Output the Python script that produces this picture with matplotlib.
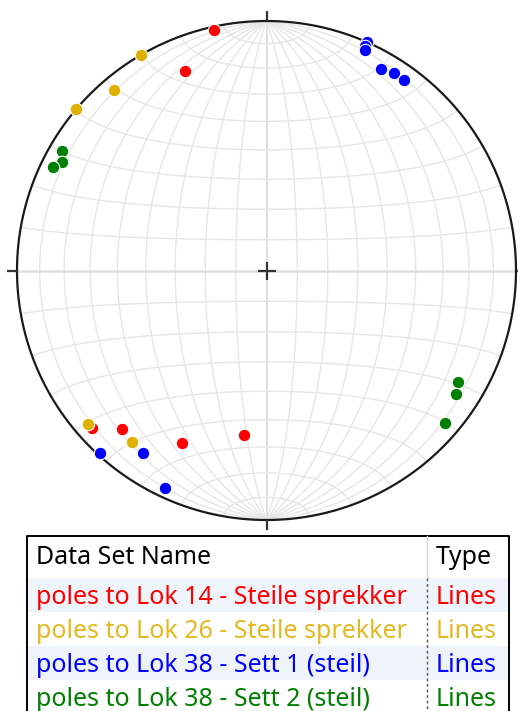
import matplotlib.pyplot as plt
import numpy as np

# Pole orientations (trend, plunge in degrees) for each data set
lok14_trend = [347.7, 337.8, 228.0, 222.2, 206.1, 187.8]
lok14_plunge = [1.7, 14.8, 6.4, 15.1, 24.1, 34.0]

lok26_trend = [329.8, 319.7, 310.3, 229.4, 218.1]
lok26_plunge = [0.0, 5.9, 0.0, 6.3, 13.9]

lok38a_trend = [23.7, 23.7, 24.1, 29.6, 32.8, 35.9, 222.3, 214.1, 205.1]
lok38a_plunge = [0.2, 2.2, 3.6, 8.1, 6.4, 6.4, 1.0, 12.5, 4.3]

lok38b_trend = [300.3, 297.9, 295.8, 120.2, 123.0, 130.4]
lok38b_plunge = [5.8, 8.1, 5.6, 12.3, 10.4, 6.5]

set_names = ["poles to Lok 14 - Steile sprekker",
             "poles to Lok 26 - Steile sprekker",
             "poles to Lok 38 - Sett 1 (steil)",
             "poles to Lok 38 - Sett 2 (steil)"]
set_types = ["Lines", "Lines", "Lines", "Lines"]
dot_colors = ["#ff0000", "#e0b000", "#0000ff", "#008000"]
text_colors = ["#ff0000", "#e6b820", "#0000ff", "#008000"]

plt.rcParams['font.family'] = ['Noto Sans', 'DejaVu Sans']


def project(x, y, z):
    # Schmidt (equal-area) lower hemisphere; x east, y north, z down
    s = np.sqrt(1.0 + z)
    return x / s, y / s


def pole_xy(trend, plunge):
    tr = np.radians(np.asarray(trend))
    pl = np.radians(np.asarray(plunge))
    return project(np.cos(pl) * np.sin(tr), np.cos(pl) * np.cos(tr), np.sin(pl))


W, H = 518, 711
cx, cy, R = 266.5, 270.5, 249.5
fig = plt.figure(figsize=(W / 100, H / 100), dpi=100)

# ---- stereonet ----
top_h = 530
ax = fig.add_axes([0, 1 - top_h / H, 1, top_h / H])
ax.set_xlim(-cx / R, (W - cx) / R)
ax.set_ylim(-(top_h - cy) / R, cy / R)
ax.axis('off')

grid_col = '#e6e6e6'
t = np.radians(np.linspace(-90, 90, 361))
# great circles through N and S
for lam in range(10, 180, 10):
    l = np.radians(lam)
    gx, gy = project(np.cos(t) * np.cos(l), np.sin(t), np.cos(t) * np.sin(l))
    lw, c = (1.4, '#e0e0e0') if lam == 90 else (1.0, grid_col)
    ax.plot(gx, gy, color=c, lw=lw, zorder=1)
# small circles about the N-S axis
s = np.radians(np.linspace(0, 180, 361))
for phi in range(-80, 90, 10):
    p = np.radians(phi)
    gx, gy = project(np.cos(p) * np.cos(s), np.full_like(s, np.sin(p)), np.cos(p) * np.sin(s))
    lw, c = (1.8, '#e0e0e0') if phi == 0 else (1.0, grid_col)
    ax.plot(gx, gy, color=c, lw=lw, zorder=1)

# primitive circle
a = np.linspace(0, 2 * np.pi, 721)
ax.plot(np.cos(a), np.sin(a), color='#1a1a1a', lw=1.6, zorder=3)

# N/E/S/W ticks and centre cross
tk = 10 / R
ax.plot([0, 0], [1, 1 + tk], color='#333333', lw=1.6, zorder=3, solid_capstyle='butt')
ax.plot([0, 0], [-1, -1 - tk], color='#333333', lw=1.6, zorder=3, solid_capstyle='butt')
ax.plot([-1, -1 - tk], [0, 0], color='#333333', lw=1.6, zorder=3, solid_capstyle='butt')
ax.plot([1, 1 + tk], [0, 0], color='#333333', lw=1.6, zorder=3, solid_capstyle='butt',
        clip_on=False)
cr = 9 / R
ax.plot([-cr, cr], [0, 0], color='#333333', lw=1.6, zorder=3, solid_capstyle='butt')
ax.plot([0, 0], [-cr, cr], color='#333333', lw=1.6, zorder=3, solid_capstyle='butt')

# poles
for i, (tr, pl) in enumerate([(lok14_trend, lok14_plunge), (lok26_trend, lok26_plunge),
                              (lok38a_trend, lok38a_plunge), (lok38b_trend, lok38b_plunge)]):
    px, py = pole_xy(tr, pl)
    ax.plot(px, py, 'o', ms=9.0, color=dot_colors[i], mec='white', mew=0.8,
            zorder=4 + i, clip_on=False)

# ---- data set table ----
tb = fig.add_axes([0, 0, 1, 1], zorder=-1)
tb.set_xlim(0, W)
tb.set_ylim(H, 0)
tb.axis('off')

left, right, top = 26.5, 508.5, 535.5
row_top, row_h = 578, 34
for i in range(len(set_names)):
    y0 = row_top + i * row_h
    if i % 2 == 0:
        tb.add_patch(plt.Rectangle((left, y0), right - left, row_h,
                                   facecolor='#eff3fa', edgecolor='none'))
tb.plot([left, left, right, right], [H + 5, top, top, H + 5], color='black', lw=1.4)

sep_x = 427
tb.plot([sep_x, sep_x], [top, row_top], color='#d8d8d8', lw=1.0)
tb.plot([sep_x, sep_x], [row_top, H], color='#555555', lw=1.0, ls=(0, (2, 2)))

fs = 18
tb.text(36, 564, "Data Set Name", color='black', fontsize=fs, va='baseline', ha='left')
tb.text(436, 564, "Type", color='black', fontsize=fs, va='baseline', ha='left')
for i, (name, typ) in enumerate(zip(set_names, set_types)):
    yb = row_top + i * row_h + 25.5
    tb.text(36, yb, name, color=text_colors[i], fontsize=fs, va='baseline', ha='left')
    tb.text(436, yb, typ, color=text_colors[i], fontsize=fs, va='baseline', ha='left')

fig.savefig('out.png', dpi=100)
